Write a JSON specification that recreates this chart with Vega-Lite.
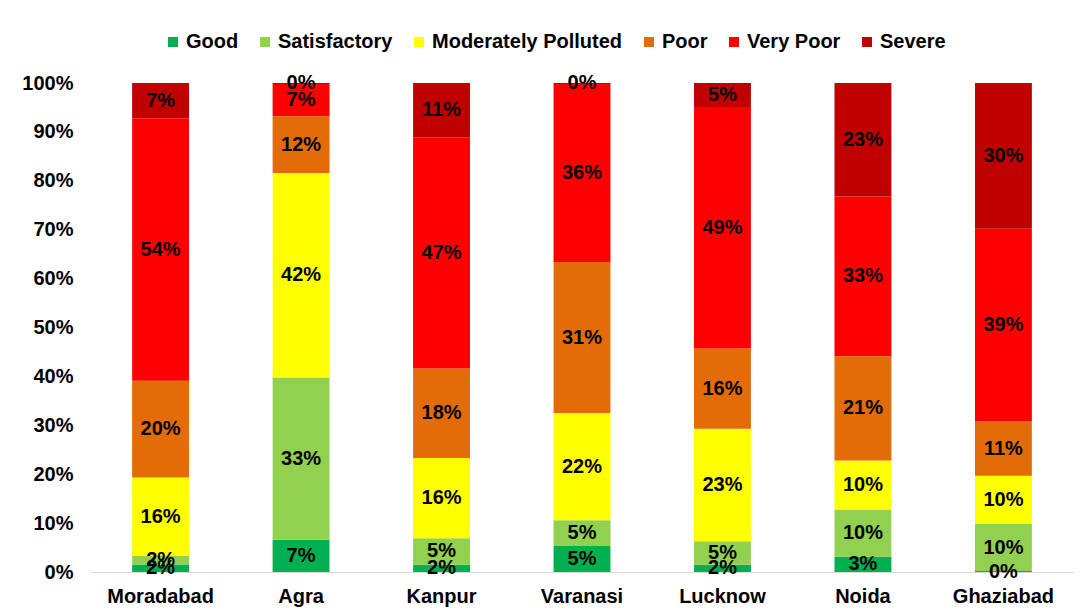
{
  "$schema": "https://vega.github.io/schema/vega-lite/v6.json",
  "width": 984,
  "height": 489,
  "autosize": {"type": "none"},
  "padding": {"left": 90, "top": 83, "right": 8, "bottom": 43},
  "background": "white",
  "config": {
    "view": {"stroke": null},
    "font": "Liberation Sans",
    "axis": {"labelFont": "Liberation Sans", "labelFontWeight": "bold", "labelFontSize": 20, "labelColor": "#000000"},
    "legend": {"labelFont": "Liberation Sans", "labelFontWeight": "bold", "labelFontSize": 20, "labelColor": "#000000", "labelLimit": 0}
  },
  "data": {
    "values": [
      {"city": "Moradabad", "category": "Good", "value": 0.0154},
      {"city": "Moradabad", "category": "Satisfactory", "value": 0.0176},
      {"city": "Moradabad", "category": "Moderately Polluted", "value": 0.160},
      {"city": "Moradabad", "category": "Poor", "value": 0.198},
      {"city": "Moradabad", "category": "Very Poor", "value": 0.537},
      {"city": "Moradabad", "category": "Severe", "value": 0.072},
      {"city": "Agra", "category": "Good", "value": 0.066},
      {"city": "Agra", "category": "Satisfactory", "value": 0.332},
      {"city": "Agra", "category": "Moderately Polluted", "value": 0.418},
      {"city": "Agra", "category": "Poor", "value": 0.116},
      {"city": "Agra", "category": "Very Poor", "value": 0.066},
      {"city": "Agra", "category": "Severe", "value": 0.002},
      {"city": "Kanpur", "category": "Good", "value": 0.015},
      {"city": "Kanpur", "category": "Satisfactory", "value": 0.054},
      {"city": "Kanpur", "category": "Moderately Polluted", "value": 0.164},
      {"city": "Kanpur", "category": "Poor", "value": 0.183},
      {"city": "Kanpur", "category": "Very Poor", "value": 0.473},
      {"city": "Kanpur", "category": "Severe", "value": 0.111},
      {"city": "Varanasi", "category": "Good", "value": 0.053},
      {"city": "Varanasi", "category": "Satisfactory", "value": 0.053},
      {"city": "Varanasi", "category": "Moderately Polluted", "value": 0.219},
      {"city": "Varanasi", "category": "Poor", "value": 0.309},
      {"city": "Varanasi", "category": "Very Poor", "value": 0.364},
      {"city": "Varanasi", "category": "Severe", "value": 0.002},
      {"city": "Lucknow", "category": "Good", "value": 0.015},
      {"city": "Lucknow", "category": "Satisfactory", "value": 0.048},
      {"city": "Lucknow", "category": "Moderately Polluted", "value": 0.230},
      {"city": "Lucknow", "category": "Poor", "value": 0.164},
      {"city": "Lucknow", "category": "Very Poor", "value": 0.494},
      {"city": "Lucknow", "category": "Severe", "value": 0.049},
      {"city": "Noida", "category": "Good", "value": 0.031},
      {"city": "Noida", "category": "Satisfactory", "value": 0.097},
      {"city": "Noida", "category": "Moderately Polluted", "value": 0.100},
      {"city": "Noida", "category": "Poor", "value": 0.213},
      {"city": "Noida", "category": "Very Poor", "value": 0.327},
      {"city": "Noida", "category": "Severe", "value": 0.232},
      {"city": "Ghaziabad", "category": "Good", "value": 0.002},
      {"city": "Ghaziabad", "category": "Satisfactory", "value": 0.096},
      {"city": "Ghaziabad", "category": "Moderately Polluted", "value": 0.099},
      {"city": "Ghaziabad", "category": "Poor", "value": 0.111},
      {"city": "Ghaziabad", "category": "Very Poor", "value": 0.394},
      {"city": "Ghaziabad", "category": "Severe", "value": 0.298}
    ]
  },
  "transform": [
    {"calculate": "indexof(['Good','Satisfactory','Moderately Polluted','Poor','Very Poor','Severe'], datum.category)", "as": "rank"},
    {"stack": "value", "groupby": ["city"], "sort": [{"field": "rank", "order": "ascending"}], "as": ["v0", "v1"]},
    {"calculate": "(datum.v0 + datum.v1) / 2", "as": "mid"}
  ],
  "encoding": {
    "x": {
      "field": "city",
      "type": "nominal",
      "sort": null,
      "scale": {"paddingInner": 0.595, "paddingOuter": 0.3},
      "axis": {"title": null, "labelAngle": 0, "ticks": false, "domainColor": "#d9d9d9", "domainWidth": 1, "labelPadding": 14}
    }
  },
  "layer": [
    {
      "mark": {"type": "bar"},
      "encoding": {
        "y": {
          "field": "v0",
          "type": "quantitative",
          "scale": {"domain": [0, 1], "nice": false},
          "axis": {"title": null, "format": ".0%", "values": [0, 0.1, 0.2, 0.3, 0.4, 0.5, 0.6, 0.7, 0.8, 0.9, 1], "grid": false, "domain": false, "ticks": false, "labelPadding": 17}
        },
        "y2": {"field": "v1"},
        "color": {
          "field": "category",
          "type": "nominal",
          "scale": {
            "domain": ["Good", "Satisfactory", "Moderately Polluted", "Poor", "Very Poor", "Severe"],
            "range": ["#00B050", "#92D050", "#FFFF00", "#E36C09", "#FF0000", "#C00000"]
          },
          "legend": {
            "title": null,
            "orient": "none",
            "direction": "horizontal",
            "legendX": 73,
            "legendY": -51,
            "symbolType": "square",
            "symbolSize": 100,
            "symbolStrokeWidth": 0,
            "columnPadding": 16,
            "labelOffset": 3
          }
        }
      }
    },
    {
      "mark": {"type": "text", "fontSize": 20, "fontWeight": "bold", "font": "Liberation Sans", "color": "#000000", "baseline": "middle", "align": "center"},
      "encoding": {
        "y": {"field": "mid", "type": "quantitative"},
        "text": {"field": "value", "type": "quantitative", "format": ".0%"}
      }
    }
  ]
}
